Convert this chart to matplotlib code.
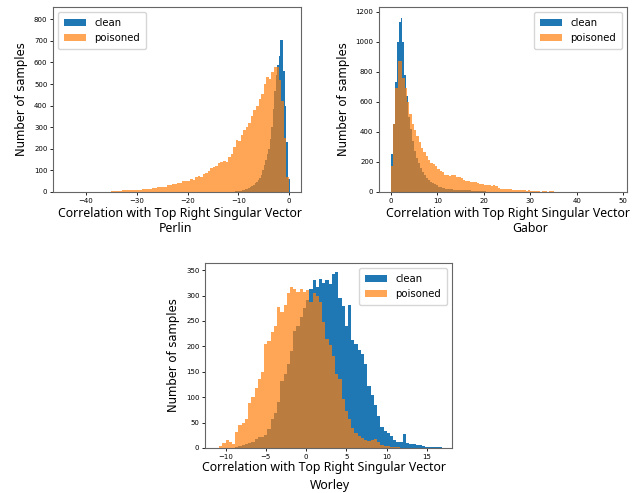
import numpy as np
import matplotlib
matplotlib.use("Agg")
import matplotlib.pyplot as plt

# bin counts per noise type (clean vs poisoned samples)
perlin_clean_edges = np.round(-11.0 + 0.3 * np.arange(38), 3)
perlin_clean = [2, 3, 3, 4, 5, 6, 8, 10, 12, 15, 18, 22, 28, 33, 40, 46, 55, 65,
                80, 100, 125, 150, 175, 200, 245, 300, 385, 470, 540, 590, 630,
                705, 705, 560, 400, 230, 60]
perlin_poison_edges = np.concatenate([np.arange(-44.0, -20.0, 1.0),
                                      np.arange(-20.0, 0.01, 0.5)])
perlin_poison = [2, 1, 2, 1, 2, 2, 1, 2, 2, 3, 5, 10, 11, 10, 7, 14, 16, 18, 22,
                 25, 32, 38, 44, 50,
                 52, 58, 55, 68, 72, 70, 85, 90, 95, 110, 115, 120, 135, 140,
                 145, 140, 160, 178, 210, 240, 235, 265, 285, 300, 320, 350,
                 380, 400, 430, 455, 500, 535, 525, 555, 580, 580, 520, 420,
                 250, 70]

gabor_clean = [255, 455, 730, 1000, 1130, 1160, 1000, 780, 640, 500, 420, 340,
               270, 225, 190, 160, 130, 110, 95, 80, 68, 58, 50, 44, 36, 30, 26,
               24, 22, 20, 18, 17, 16, 16, 15, 14, 12, 11, 11, 10, 10, 9, 7, 6,
               5, 5, 5, 4, 4, 3, 3, 2, 2, 1, 1, 1, 1]
gabor_clean_edges = np.round(0.42 * np.arange(len(gabor_clean) + 1), 3)
gabor_poison = [170, 450, 690, 875, 875, 760, 690, 600, 520, 450, 410, 370, 330,
                290, 265, 240, 215, 195, 185, 170, 150, 140, 130, 112, 110, 108,
                112, 115, 100, 98, 95, 80, 75, 76, 66, 68, 64, 62, 56, 55, 48,
                45, 44, 42, 44, 38, 25, 22, 22, 20, 22, 18, 16, 15, 15, 12, 10,
                10, 9, 10, 5, 6, 4, 5, 3, 5, 4, 3, 4, 5]
gabor_poison_edges = np.round(0.5 * np.arange(len(gabor_poison) + 1), 3)

worley_clean = [2, 3, 5, 7, 9, 11, 18, 21, 22, 26, 38, 58, 68, 90, 132, 146, 165,
                190, 230, 240, 258, 276, 292, 312, 330, 316, 333, 325, 330, 322,
                343, 347, 296, 280, 240, 282, 212, 205, 193, 185, 165, 122, 104,
                85, 62, 42, 34, 30, 24, 16, 11, 12, 27, 10, 8, 7, 6, 5, 4, 2, 2,
                1, 1, 1]
worley_clean_edges = np.round(-8.8 + 0.4 * np.arange(len(worley_clean) + 1), 3)
worley_poison = [3, 10, 16, 12, 8, 32, 46, 50, 58, 88, 100, 118, 135, 150, 205,
                 210, 228, 240, 278, 268, 282, 305, 316, 312, 306, 312, 306, 310,
                 287, 305, 300, 287, 248, 215, 202, 182, 146, 136, 97, 72, 57,
                 40, 30, 24, 20, 15, 14, 16, 18, 12, 6, 4, 3, 2, 1, 1]
worley_poison_edges = np.round(-10.8 + 0.4 * np.arange(len(worley_poison) + 1), 3)

xlabel_text = "Correlation with Top Right Singular Vector"
caption_font = "Noto Sans"

W, H = 643, 493
fig = plt.figure(figsize=(W / 100, H / 100), dpi=100)


def px_axes(left, top, right, bottom):
    return fig.add_axes([left / W, 1 - bottom / H, (right - left) / W,
                         (bottom - top) / H])


def draw_panel(ax, clean, clean_edges, poison, poison_edges, xlim, ylim,
               yticks, legend_loc):
    ax.hist(clean_edges[:-1], bins=clean_edges, weights=clean,
            histtype="stepfilled", color="#1f77b4", label="clean")
    ax.hist(poison_edges[:-1], bins=poison_edges, weights=poison,
            histtype="stepfilled", color="#ff7f0e", alpha=0.7, label="poisoned")
    ax.set_xlim(*xlim)
    ax.set_ylim(*ylim)
    ax.set_yticks(yticks)
    ax.tick_params(labelsize=5, length=2.5, pad=1.5, width=0.6)
    for s in ax.spines.values():
        s.set_linewidth(0.8)
        s.set_color("0.4")
    ax.set_ylabel("Number of samples", fontsize=8.4, labelpad=4)
    ax.legend(loc=legend_loc, fontsize=7.3, handlelength=2.2, borderpad=0.6)


ax1 = px_axes(53, 7, 301, 192)
draw_panel(ax1, perlin_clean, perlin_clean_edges, perlin_poison,
           perlin_poison_edges, (-46.5, 2.36), (0, 857),
           range(0, 801, 100), "upper left")
ax1.set_xticks([-40, -30, -20, -10, 0])

ax2 = px_axes(379, 7, 627, 192)
draw_panel(ax2, gabor_clean, gabor_clean_edges, gabor_poison,
           gabor_poison_edges, (-2.53, 50.8), (0, 1231),
           range(0, 1201, 200), "upper right")
ax2.set_xticks([0, 10, 20, 30, 40, 50])

ax3 = px_axes(205, 263, 452, 448)
draw_panel(ax3, worley_clean, worley_clean_edges, worley_poison,
           worley_poison_edges, (-12.55, 18.1), (0, 364),
           range(0, 351, 50), "upper right")
ax3.set_xticks([-10, -5, 0, 5, 10, 15])

# x labels and panel captions
for cx, ly, name, ny in [(180, 213, "Perlin", 228), (508, 213, "Gabor", 228),
                         (324, 467, "Worley", 486)]:
    fig.text(cx / W, 1 - ly / H, xlabel_text, fontsize=8.85,
             family=caption_font, ha="center", va="center")
    off = {"Perlin": -4, "Gabor": 22, "Worley": 6}[name]
    fig.text((cx + off) / W, 1 - ny / H, name, fontsize=8.85,
             family=caption_font, ha="center", va="center")

fig.savefig("out.png", dpi=100)
